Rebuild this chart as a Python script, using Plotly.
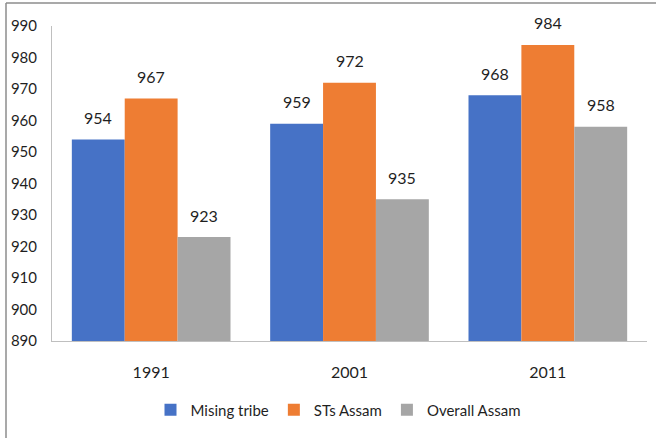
import plotly.graph_objects as go

years = ["1991", "2001", "2011"]
mising = [954, 959, 968]
sts_assam = [967, 972, 984]
overall_assam = [923, 935, 958]

series = [
    ("Mising tribe", mising, "#4672C6"),
    ("STs Assam", sts_assam, "#EE7D33"),
    ("Overall Assam", overall_assam, "#A6A6A6"),
]

FONT = "Lato, Open Sans, Arial"
TXT = "#1F1F1F"

L, R, T, B = 52, 9, 26, 97
W, H = 656, 438
pw = W - L - R
ph = H - T - B
BARGAP = 0.2
bar_px = pw / len(years) * (1 - BARGAP) / len(series)

def px(x):
    return (x - L) / pw

def py(y):
    return (H - B - y) / ph

fig = go.Figure()
annotations = []
for i, (name, vals, col) in enumerate(series):
    fig.add_trace(go.Bar(
        x=years, y=vals, name=name,
        marker=dict(color=col, line=dict(width=0)),
    ))
    for j, v in enumerate(vals):
        annotations.append(dict(
            x=j, y=v, xref="x", yref="y", text=str(v), showarrow=False,
            xshift=(i - 1) * bar_px, yshift=22, yanchor="middle",
            font=dict(size=16, family=FONT, color=TXT),
        ))

fig.update_layout(
    width=W, height=H,
    margin=dict(l=L, r=R, t=T, b=B, autoexpand=False),
    paper_bgcolor="white", plot_bgcolor="white",
    barmode="group", bargap=BARGAP, bargroupgap=0,
    font=dict(family=FONT, size=16, color=TXT),
    showlegend=True,
    legend=dict(orientation="h", x=px(338), xanchor="center",
                y=py(410), yanchor="middle",
                font=dict(size=15, family=FONT, color=TXT),
                itemwidth=30, tracegroupgap=0),
    xaxis=dict(type="category", range=[-0.5, len(years) - 0.5],
               showline=True, linecolor="#BFBFBF", linewidth=1,
               automargin=False, ticks="", showgrid=False, ticklabelstandoff=17,
               tickfont=dict(size=16, family=FONT, color=TXT)),
    yaxis=dict(range=[890, 990], dtick=10, showline=True, linecolor="#BFBFBF",
               linewidth=1, ticks="", showgrid=False, zeroline=False, automargin=False,
               ticklabelstandoff=11,
               tickfont=dict(size=15, family=FONT, color=TXT)),
    annotations=annotations,
    shapes=[
        dict(type="line", xref="paper", yref="paper",
             x0=px(6), x1=px(6), y0=py(3), y1=py(440),
             line=dict(color="#8C8C8C", width=1.5)),
        dict(type="line", xref="paper", yref="paper",
             x0=px(6), x1=px(660), y0=py(3), y1=py(3),
             line=dict(color="#8C8C8C", width=1.5)),
    ],
)

fig.write_html("out.html", config={"displayModeBar": False},
               post_script="document.body.style.margin='0';document.body.style.padding='0';")
